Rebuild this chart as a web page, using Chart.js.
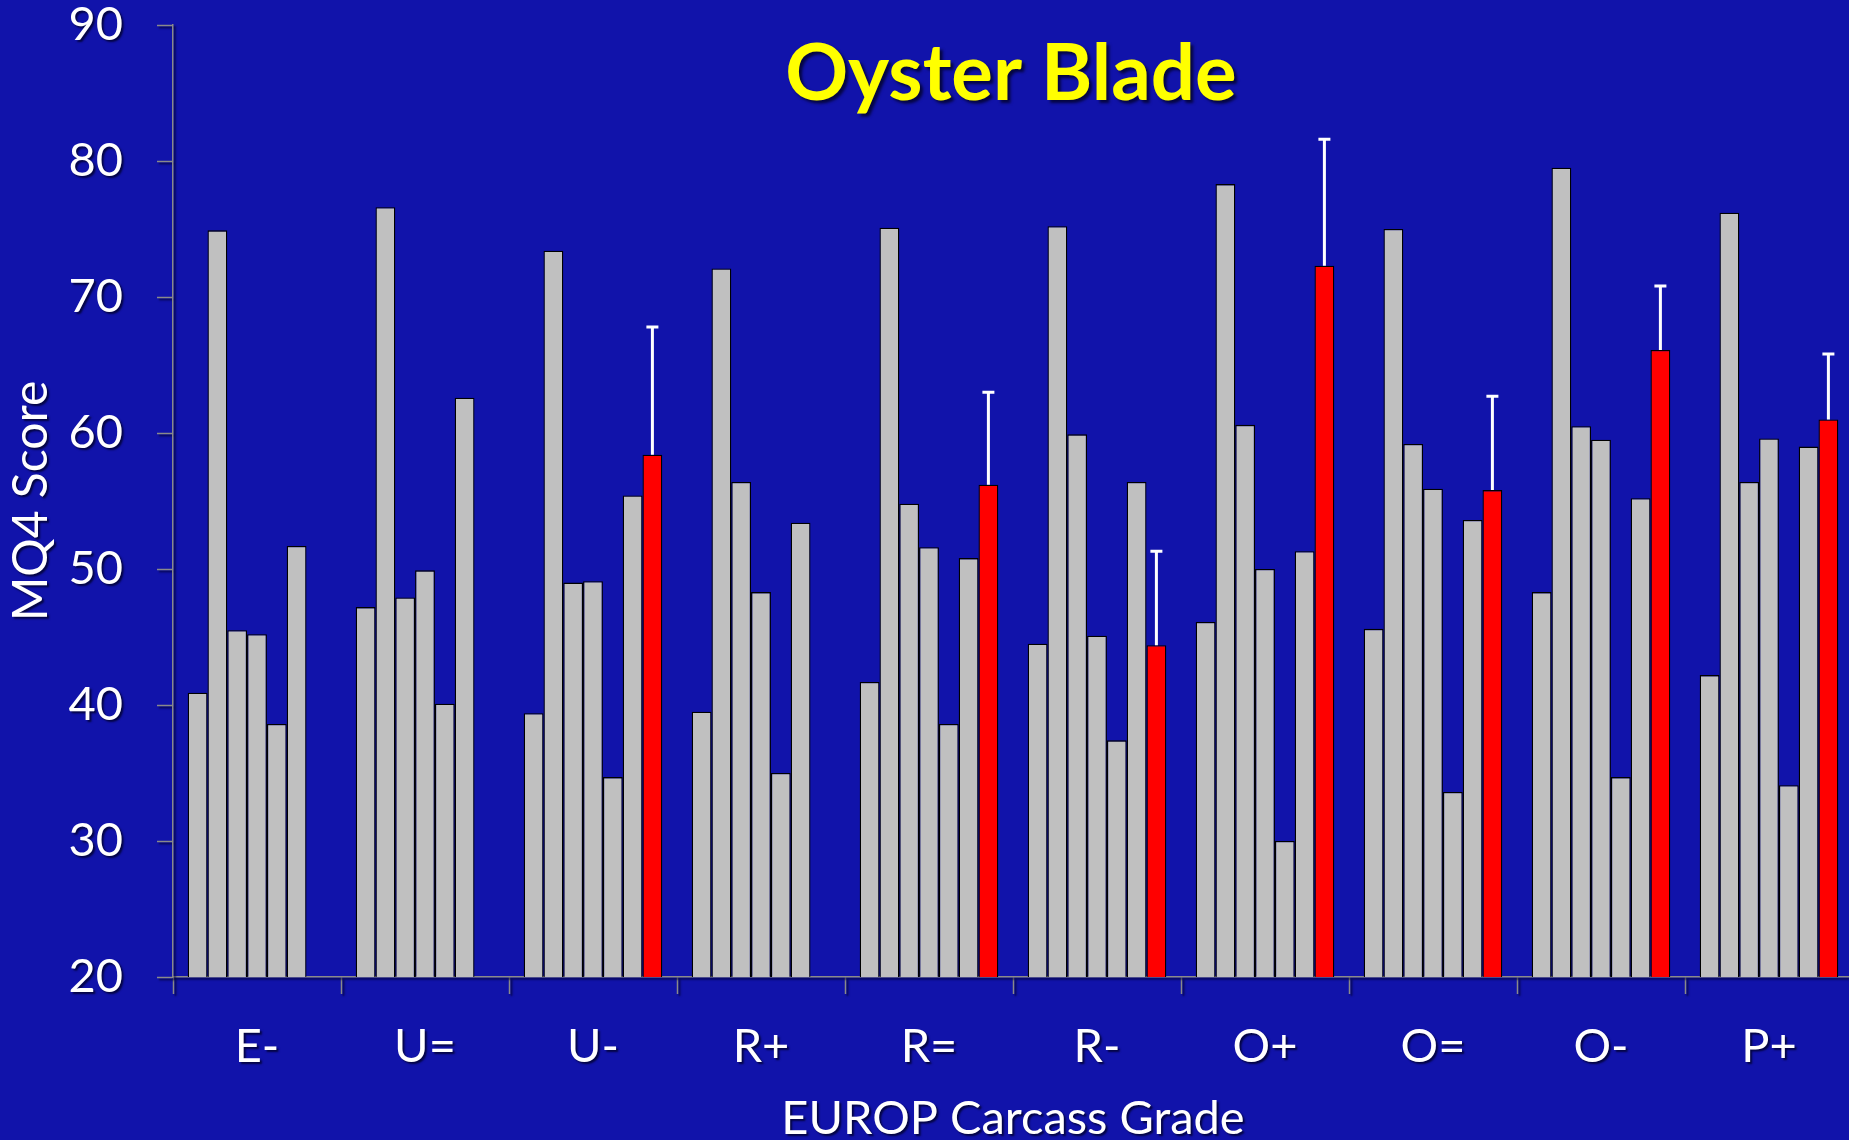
<!DOCTYPE html>
<html>
<head>
<meta charset="utf-8">
<title>Oyster Blade</title>
<script src="https://cdn.jsdelivr.net/npm/chart.js@4.4.1/dist/chart.umd.min.js"></script>
<style>
    html, body { margin: 0; padding: 0; overflow: hidden; background: #1113aa; }
    canvas { display: block; }
</style>
</head>
<body>
<!-- the plot runs a few pixels past the right edge of the slide, as in the original -->
<canvas id="oyster-blade-canvas" width="1853" height="1140"></canvas>
<script>
const chartTitle = "Oyster Blade";
const grades = ["E-", "U=", "U-", "R+", "R=", "R-", "O+", "O=", "O-", "P+"];

// six grey bars per grade, read left to right
const bar1 = [40.9, 47.2, 39.4, 39.5, 41.7, 44.5, 46.1, 45.6, 48.3, 42.2];
const bar2 = [74.9, 76.6, 73.4, 72.1, 75.1, 75.2, 78.3, 75.0, 79.5, 76.2];
const bar3 = [45.5, 47.9, 49.0, 56.4, 54.8, 59.9, 60.6, 59.2, 60.5, 56.4];
const bar4 = [45.2, 49.9, 49.1, 48.3, 51.6, 45.1, 50.0, 55.9, 59.5, 59.6];
const bar5 = [38.6, 40.1, 34.7, 35.0, 38.6, 37.4, 30.0, 33.6, 34.7, 34.1];
const bar6 = [51.7, 62.6, 55.4, 53.4, 50.8, 56.4, 51.3, 53.6, 55.2, 59.0];

// red bar (mean) and its upper error
const meanScore = [null, null, 58.4, null, 56.2, 44.4, 72.3, 55.8, 66.1, 61.0];
const meanErr = [null, null, 9.4, null, 6.8, 6.9, 9.3, 6.9, 4.7, 4.8];

const yTicks = { min: 20, max: 90, step: 10 };

const GREY = "#c0c0c0";
const RED = "#ff0000";
const AXIS = "#8a8a8a";

Chart.defaults.font.family = "Lato, 'Open Sans', sans-serif";
Chart.defaults.color = "#ffffff";

/**
 * @type {HTMLCanvasElement}
 */
const canvas = document.querySelector("#oyster-blade-canvas");

// dark drop shadow behind the axis text, switched off before the bars
const textShadowPlugin = {
    id: "textShadow",
    beforeDraw(chart) {
        const ctx = chart.ctx;
        ctx.shadowColor = "rgba(0, 0, 40, 0.8)";
        ctx.shadowOffsetX = 2;
        ctx.shadowOffsetY = 2;
        ctx.shadowBlur = 2;
    },
    beforeDatasetsDraw(chart) {
        const ctx = chart.ctx;
        ctx.shadowColor = "rgba(0, 0, 0, 0)";
        ctx.shadowOffsetX = 0;
        ctx.shadowOffsetY = 0;
        ctx.shadowBlur = 0;
    }
};

// upper error bars on the red mean bars
const errorBarPlugin = {
    id: "errorBars",
    afterDatasetsDraw(chart) {
        const meta = chart.getDatasetMeta(6);
        const yScale = chart.scales.y;
        const ctx = chart.ctx;
        ctx.save();
        ctx.strokeStyle = "#ffffff";
        ctx.lineWidth = 3;
        meta.data.forEach((bar, i) => {
            if (meanScore[i] == null) return;
            const top = yScale.getPixelForValue(meanScore[i] + meanErr[i]);
            ctx.beginPath();
            ctx.moveTo(bar.x, bar.y);
            ctx.lineTo(bar.x, top);
            ctx.moveTo(bar.x - 6, top);
            ctx.lineTo(bar.x + 6, top);
            ctx.stroke();
        });
        ctx.restore();
    }
};

// yellow slide title sitting inside the plot area
const slideTitlePlugin = {
    id: "slideTitle",
    afterDraw(chart) {
        const { ctx, chartArea } = chart;
        ctx.save();
        ctx.font = "bold 78px Lato, 'Open Sans', sans-serif";
        ctx.fillStyle = "#ffff00";
        ctx.textAlign = "center";
        ctx.textBaseline = "alphabetic";
        ctx.shadowColor = "rgba(0, 0, 30, 0.75)";
        ctx.shadowOffsetX = 3;
        ctx.shadowOffsetY = 3;
        ctx.shadowBlur = 3;
        ctx.fillText(chartTitle, (chartArea.left + chartArea.right) / 2 - 2, chartArea.top + 75);
        ctx.restore();
    }
};

const greySeries = [bar1, bar2, bar3, bar4, bar5, bar6];

const datasets = greySeries.map((values, i) => ({
    label: "Bar " + (i + 1),
    data: values,
    backgroundColor: GREY,
    borderColor: "#000000",
    borderWidth: 1.3,
}));

datasets.push({
    label: "Mean",
    data: meanScore,
    backgroundColor: RED,
    borderColor: "#000000",
    borderWidth: 1.3,
});

new Chart(canvas, {
    type: "bar",
    data: {
        labels: grades,
        datasets: datasets
    },
    plugins: [textShadowPlugin, errorBarPlugin, slideTitlePlugin],
    options: {
        responsive: false,
        animation: false,
        devicePixelRatio: 1,
        layout: {
            padding: { top: 25, right: 0, bottom: 0, left: 0 }
        },
        datasets: {
            bar: {
                categoryPercentage: 0.825,
                barPercentage: 1.0,
            }
        },
        plugins: {
            legend: { display: false },
            title: { display: false },
            tooltip: { enabled: false }
        },
        scales: {
            x: {
                grid: {
                    offset: true,
                    drawOnChartArea: false,
                    drawTicks: true,
                    tickLength: 17,
                    tickColor: AXIS,
                    tickWidth: 1.5,
                },
                border: { color: AXIS, width: 1.5 },
                ticks: {
                    color: "#ffffff",
                    padding: 25,
                    maxRotation: 0,
                    font: { size: 47, lineHeight: 1.2 }
                },
                title: {
                    display: true,
                    text: "EUROP Carcass Grade",
                    color: "#ffffff",
                    padding: 0,
                    font: { size: 47, lineHeight: "42px" }
                },
                afterFit(scale) {
                    scale.height = 163;
                    scale.paddingLeft = 0;
                    scale.paddingRight = 0;
                }
            },
            y: {
                min: yTicks.min,
                max: yTicks.max,
                grid: {
                    drawOnChartArea: false,
                    drawTicks: true,
                    tickLength: 16,
                    tickColor: AXIS,
                    tickWidth: 1.5,
                },
                border: { color: AXIS, width: 1.5 },
                ticks: {
                    stepSize: yTicks.step,
                    color: "#ffffff",
                    padding: 34,
                    font: { size: 47, lineHeight: 1.2 }
                },
                title: {
                    display: true,
                    text: "MQ4 Score",
                    color: "#ffffff",
                    padding: { top: 3, bottom: 0 },
                    font: { size: 48, lineHeight: 1.2 }
                },
                afterFit(scale) {
                    scale.width = 173;
                    scale.paddingTop = 0;
                    scale.paddingBottom = 0;
                }
            }
        }
    }
});
</script>
</body>
</html>
